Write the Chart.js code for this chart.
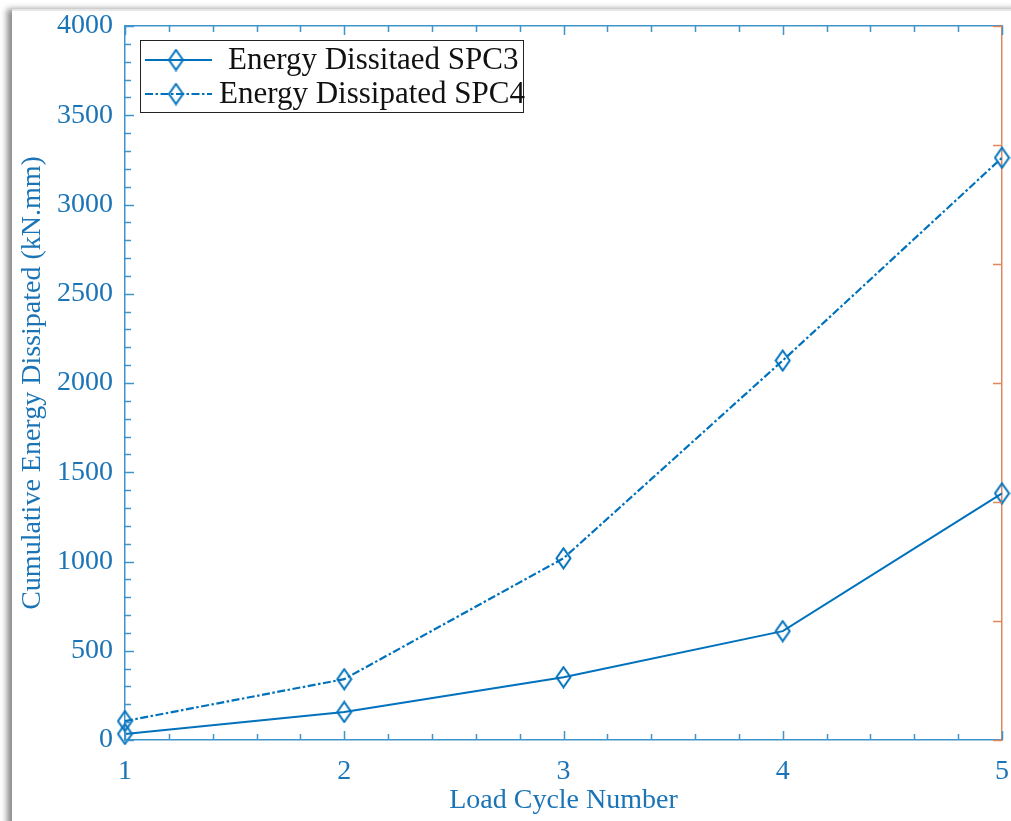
<!DOCTYPE html>
<html>
<head>
<meta charset="utf-8">
<script src="https://cdn.jsdelivr.net/npm/chart.js@4/dist/chart.umd.min.js"></script>
<style>
  html, body { margin: 0; padding: 0; background: #fff; overflow: hidden; }
  #frame {
    position: absolute; left: 12px; top: 9px; width: 1010px; height: 830px;
    border-top: 2px solid #e6e6e6;
    box-shadow: -5px 0 6px rgba(0, 0, 0, 0.45);
    background: #fff;
  }
  #chart { position: absolute; left: 0; top: 0; }
</style>
</head>
<body>
<div id="frame"></div>
<canvas id="chart" width="1011" height="821"></canvas>
<script>
// === DATA ===
const cycles = [1, 2, 3, 4, 5];
const spc3Energy = [34, 157, 352, 610, 1382];
const spc4Energy = [106, 341, 1018, 2126, 3262];
const seriesNames = ["Energy Dissitaed SPC3", "Energy Dissipated SPC4"];
const xTitle = "Load Cycle Number";
const yTitle = "Cumulative Energy Dissipated (kN.mm)";

// === STYLE ===
const lineBlue = "#0072BD";
const textBlue = "#1a74b6";
const axisBlue = "#4094cc";
const axisOrange = "#e2875a";
const serif = "'Liberation Serif', 'Times New Roman', serif";
const dashDot = [8, 2.5, 2.5, 2.5];

// diamond marker (taller than wide, like MATLAB)
function makeDiamond() {
    const c = document.createElement("canvas");
    c.width = 17; c.height = 23;
    const g = c.getContext("2d");
    g.strokeStyle = lineBlue;
    g.lineWidth = 2;
    g.beginPath();
    g.moveTo(8.5, 1.5); g.lineTo(15.5, 11.5); g.lineTo(8.5, 21.5); g.lineTo(1.5, 11.5);
    g.closePath();
    g.stroke();
    return c;
}
const diamond = makeDiamond();

// === TICKS + LEGEND PLUGIN ===
const ticksAndLegend = {
    id: "ticksAndLegend",
    afterDraw(chart) {
        const ctx = chart.ctx;
        const a = chart.chartArea;
        const xs = chart.scales.x, ys = chart.scales.y, yr = chart.scales.y2;
        ctx.save();
        ctx.lineWidth = 1.5;

        // x ticks: bottom and top, inward
        ctx.strokeStyle = axisBlue;
        for (let v = 1; v <= 5.0001; v += 0.2) {
            const major = Math.abs(v - Math.round(v)) < 1e-6;
            const len = major ? 9 : 6;
            const px = Math.round(xs.getPixelForValue(v)) + 0.5;
            ctx.beginPath();
            ctx.moveTo(px, a.bottom); ctx.lineTo(px, a.bottom - len);
            ctx.moveTo(px, a.top); ctx.lineTo(px, a.top + len);
            ctx.stroke();
        }
        // left y ticks
        for (let v = 0; v <= 4000; v += 100) {
            const len = v % 500 === 0 ? 9 : 6;
            const py = Math.round(ys.getPixelForValue(v)) + 0.5;
            ctx.beginPath();
            ctx.moveTo(a.left, py); ctx.lineTo(a.left + len, py);
            ctx.stroke();
        }
        // right (orange) ticks
        ctx.strokeStyle = axisOrange;
        for (let v = 0; v <= 6; v += 1) {
            const py = Math.round(yr.getPixelForValue(v)) + 0.5;
            ctx.beginPath();
            ctx.moveTo(a.right, py); ctx.lineTo(a.right - 9, py);
            ctx.stroke();
        }

        // legend box
        const lx = 140, ly = 40, lw = 383, lh = 72;
        ctx.fillStyle = "#fff";
        ctx.fillRect(lx, ly, lw, lh);
        ctx.strokeStyle = "#222";
        ctx.lineWidth = 1;
        ctx.strokeRect(lx + 0.5, ly + 0.5, lw, lh);
        const rows = [ly + 20, ly + 54];
        chart.data.datasets.forEach((ds, i) => {
            const ry = rows[i];
            ctx.strokeStyle = lineBlue;
            ctx.lineWidth = 2;
            ctx.setLineDash(ds.borderDash || []);
            ctx.beginPath();
            ctx.moveTo(lx + 5, ry); ctx.lineTo(lx + 72, ry);
            ctx.stroke();
            ctx.setLineDash([]);
            ctx.drawImage(diamond, lx + 36 - 8.5, ry - 11.5);
            ctx.fillStyle = "#111";
            ctx.font = "31px " + serif;
            ctx.textBaseline = "middle";
            ctx.textAlign = "left";
            ctx.fillText(ds.label, i === 0 ? lx + 88 : lx + 79, ry + 1);
        });
        ctx.restore();
    }
};

// === CHART ===
const ctx = document.getElementById("chart").getContext("2d");
new Chart(ctx, {
    type: "line",
    data: {
        datasets: [
            {
                label: seriesNames[0],
                data: cycles.map((c, i) => ({ x: c, y: spc3Energy[i] })),
                borderColor: lineBlue,
                borderWidth: 2,
                pointStyle: diamond,
                yAxisID: "y"
            },
            {
                label: seriesNames[1],
                data: cycles.map((c, i) => ({ x: c, y: spc4Energy[i] })),
                borderColor: lineBlue,
                borderWidth: 2.2,
                borderDash: dashDot,
                pointStyle: diamond,
                yAxisID: "y"
            }
        ]
    },
    options: {
        responsive: false,
        animation: false,
        clip: false,
        layout: { padding: { top: 26, left: 0, right: 0, bottom: 0 } },
        plugins: {
            legend: { display: false },
            tooltip: { enabled: false }
        },
        scales: {
            x: {
                type: "linear",
                position: "bottom",
                min: 1, max: 5,
                grid: { display: false },
                border: { display: true, color: axisBlue, width: 1.5 },
                ticks: {
                    stepSize: 1,
                    color: textBlue,
                    padding: 7,
                    maxRotation: 0,
                    font: { family: serif, size: 28 },
                    callback: v => String(v)
                },
                title: {
                    display: true,
                    text: xTitle,
                    color: textBlue,
                    font: { family: serif, size: 28 },
                    padding: { top: 0, bottom: 4 }
                },
                afterFit: s => { s.height = 81; s.paddingLeft = 0; s.paddingRight = 0; }
            },
            x2: {
                type: "linear",
                position: "top",
                min: 1, max: 5,
                grid: { display: false },
                border: { display: true, color: axisBlue, width: 1.5 },
                ticks: { display: false },
                afterFit: s => { s.height = 0; }
            },
            y: {
                position: "left",
                min: 0, max: 4000,
                grid: { display: false },
                border: { display: true, color: axisBlue, width: 1.5 },
                ticks: {
                    stepSize: 500,
                    color: textBlue,
                    padding: 4,
                    font: { family: serif, size: 28 },
                    callback: v => String(v)
                },
                title: {
                    display: true,
                    text: yTitle,
                    color: textBlue,
                    font: { family: serif, size: 28 },
                    padding: { top: 16, bottom: 0 }
                },
                afterFit: s => { s.width = 125; s.paddingTop = 0; s.paddingBottom = 0; }
            },
            y2: {
                position: "right",
                min: 0, max: 6,
                grid: { display: false },
                border: { display: true, color: axisOrange, width: 1.5 },
                ticks: { display: false, stepSize: 1 },
                afterFit: s => { s.width = 9; }
            }
        }
    },
    plugins: [ticksAndLegend]
});
</script>
</body>
</html>
